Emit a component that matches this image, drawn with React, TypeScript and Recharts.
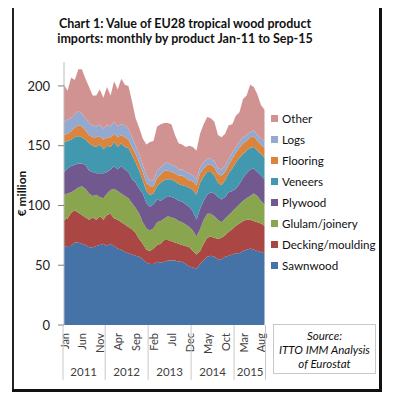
import { AreaChart, Area, XAxis, YAxis } from "recharts";

// EU28 tropical wood product imports, EUR million, monthly Jan-11 .. Sep-15
const monthNames = ["Jan", "Feb", "Mar", "Apr", "May", "Jun", "Jul", "Aug", "Sep", "Oct", "Nov", "Dec"];
const years = ["2011", "2012", "2013", "2014", "2015"];
const monthCount = 57;

const sawnwood = [65, 66, 66, 69, 69, 68, 67, 65, 65, 66, 67, 68, 66, 68, 66, 64, 63, 61, 60, 59, 58, 57, 55, 52, 51, 51, 53, 52, 53, 54, 54, 54, 53, 53, 51, 49, 48, 47, 51, 54, 57, 58, 57, 55, 55, 57, 58, 59, 60, 60, 62, 63, 64, 63, 62, 61, 60];
const decking = [23, 23, 28, 27, 25, 24, 23, 23, 25, 22, 24, 20, 26, 25, 23, 24, 23, 23, 22, 21, 19, 15, 13, 11, 11, 13, 14, 16, 18, 17, 16, 15, 15, 14, 15, 16, 14, 12, 11, 14, 16, 16, 16, 17, 18, 18, 20, 21, 23, 25, 25, 25, 24, 24, 24, 24, 23];
const glulam = [21, 21, 17, 17, 21, 24, 24, 22, 18, 21, 16, 18, 18, 20, 25, 24, 24, 24, 24, 22, 21, 21, 18, 18, 17, 17, 19, 19, 18, 20, 20, 20, 19, 19, 18, 17, 17, 15, 18, 20, 20, 19, 18, 16, 13, 14, 14, 15, 15, 16, 17, 18, 20, 23, 22, 19, 18];
const plywood = [19, 21, 22, 21, 20, 19, 20, 19, 20, 18, 20, 21, 18, 17, 19, 18, 23, 22, 22, 20, 21, 21, 24, 21, 20, 20, 19, 17, 17, 17, 17, 17, 17, 17, 17, 17, 16, 14, 17, 16, 16, 18, 19, 19, 19, 18, 19, 17, 16, 17, 19, 21, 22, 21, 20, 21, 21];
const veneers = [25, 23, 22, 23, 23, 22, 21, 23, 22, 22, 24, 20, 22, 19, 20, 19, 19, 19, 20, 20, 17, 15, 11, 10, 10, 9, 11, 15, 15, 14, 15, 14, 14, 14, 15, 16, 18, 21, 22, 20, 19, 17, 15, 12, 12, 14, 16, 19, 22, 22, 20, 19, 18, 18, 18, 18, 18];
const flooring = [6, 6, 7, 8, 9, 9, 8, 7, 7, 8, 7, 8, 7, 8, 7, 8, 7, 8, 7, 7, 7, 7, 7, 7, 7, 6, 7, 7, 8, 7, 6, 7, 7, 8, 7, 6, 7, 8, 8, 7, 6, 6, 7, 7, 8, 7, 7, 8, 8, 8, 9, 8, 9, 9, 8, 8, 8];
const logs = [11, 12, 11, 11, 12, 11, 10, 10, 10, 9, 10, 9, 10, 9, 10, 9, 9, 10, 9, 8, 7, 7, 6, 6, 5, 5, 6, 6, 6, 7, 6, 6, 5, 5, 5, 6, 5, 5, 5, 5, 5, 5, 5, 5, 5, 5, 5, 5, 5, 5, 5, 5, 4, 5, 5, 5, 5];
const other = [31, 24, 34, 29, 35, 37, 33, 30, 25, 26, 29, 26, 32, 26, 34, 31, 38, 34, 36, 30, 23, 22, 22, 26, 32, 33, 37, 36, 34, 33, 34, 26, 22, 21, 21, 23, 24, 24, 28, 32, 35, 34, 33, 28, 27, 27, 28, 24, 26, 25, 32, 33, 40, 36, 34, 28, 27];

const yTicks = [0, 50, 100, 150, 200];

const series = [
  { key: "sawnwood", name: "Sawnwood", color: "#4572A7", values: sawnwood },
  { key: "decking", name: "Decking/moulding", color: "#AA4643", values: decking },
  { key: "glulam", name: "Glulam/joinery", color: "#89A54E", values: glulam },
  { key: "plywood", name: "Plywood", color: "#71588F", values: plywood },
  { key: "veneers", name: "Veneers", color: "#4198AF", values: veneers },
  { key: "flooring", name: "Flooring", color: "#DB843D", values: flooring },
  { key: "logs", name: "Logs", color: "#93A9CF", values: logs },
  { key: "other", name: "Other", color: "#D19392", values: other },
];

const data = Array.from({ length: monthCount }, (_, i) => {
  const row: Record<string, string | number> = {
    label: monthNames[i % 12],
    year: years[Math.floor(i / 12)],
  };
  series.forEach((s) => {
    row[s.key] = s.values[i];
  });
  return row;
});

const FONT = "Lato, 'Open Sans', sans-serif";
const PLOT_LEFT = 64;
const PLOT_RIGHT = 264.5;
const STEP = (PLOT_RIGHT - PLOT_LEFT) / (monthCount - 1);

// indices where a year's label sits (half a step to the right of that month)
const yearLabelAt: Record<number, { text: string; shift: number }> = {
  5: { text: "2011", shift: 0.5 },
  17: { text: "2012", shift: 0.5 },
  29: { text: "2013", shift: 0.5 },
  41: { text: "2014", shift: 0.5 },
  52: { text: "2015", shift: 0 },
};

function MonthTick(props: any) {
  const { x, y, payload } = props;
  const i = payload.index;
  const parts = [];
  if (i % 5 === 0) {
    parts.push(
      <text
        key="m"
        x={x}
        y={y + 8}
        transform={`rotate(-90, ${x}, ${y + 8})`}
        textAnchor="end"
        dominantBaseline="central"
        fontSize={11}
        fill="#404040"
        fontFamily={FONT}
      >
        {payload.value}
      </text>
    );
  }
  if (i % 12 === 11 || i === 0 || i === monthCount - 1) {
    const lx = i === 0 ? x - 1 : i === monthCount - 1 ? x + 1 : x + STEP / 2;
    parts.push(<line key="s" x1={lx} x2={lx} y1={y} y2={y + 55} stroke="#c8c8c8" strokeWidth={1} />);
  }
  const yl = yearLabelAt[i];
  if (yl) {
    parts.push(
      <text
        key="y"
        x={x + yl.shift * STEP}
        y={y + 46}
        textAnchor="middle"
        dominantBaseline="central"
        fontSize={11.5}
        fill="#404040"
        fontFamily={FONT}
      >
        {yl.text}
      </text>
    );
  }
  return <g>{parts}</g>;
}

export default function App() {
  const legendItems = [...series].reverse();
  return (
    <div style={{ position: "absolute", left: 0, top: 0, width: 398, height: 403, background: "#fff", fontFamily: FONT }}>
      {/* frame */}
      <div style={{ position: "absolute", left: 12, top: 8, width: 1.5, height: 383, background: "#222" }} />
      <div style={{ position: "absolute", left: 379, top: 8, width: 2.5, height: 384, background: "#111" }} />
      <div style={{ position: "absolute", left: 12, top: 389, width: 369, height: 2.5, background: "#111" }} />

      {/* title */}
      <div
        style={{
          position: "absolute",
          left: 40,
          top: 16,
          width: 290,
          textAlign: "center",
          fontWeight: 700,
          fontSize: 12.5,
          lineHeight: "15px",
          color: "#111",
        }}
      >
        Chart 1: Value of EU28 tropical wood product
        <br />
        imports: monthly by product Jan-11 to Sep-15
      </div>

      <AreaChart
        width={398}
        height={403}
        data={data}
        margin={{ top: 62, right: 398 - PLOT_RIGHT, bottom: 0, left: 0 }}
        style={{ position: "absolute", left: 0, top: 0 }}
      >
        <XAxis
          dataKey="label"
          interval={0}
          height={78}
          tickSize={0}
          tickMargin={0}
          axisLine={false}
          tickLine={false}
          tick={<MonthTick />}
        />
        <YAxis
          width={PLOT_LEFT}
          domain={[0, 220]}
          ticks={yTicks}
          tickSize={6}
          tickMargin={8}
          axisLine={{ stroke: "#bcbcbc" }}
          tickLine={{ stroke: "#808080" }}
          tick={{ fontSize: 13, fill: "#222", fontFamily: FONT }}
          label={{
            value: "€ million",
            angle: -90,
            position: "insideLeft",
            dx: 17,
            dy: 0,
            style: { fontSize: 12, fontWeight: 700, fill: "#111", fontFamily: FONT, textAnchor: "middle" },
          }}
        />
        {series.map((s) => (
          <Area
            key={s.key}
            type="linear"
            dataKey={s.key}
            name={s.name}
            stackId="1"
            stroke="none"
            fill={s.color}
            fillOpacity={1}
            dot={false}
            activeDot={false}
            isAnimationActive={false}
          />
        ))}
      </AreaChart>

      {/* legend */}
      <div style={{ position: "absolute", left: 271, top: 108 }}>
        {legendItems.map((s) => (
          <div key={s.key} style={{ display: "flex", alignItems: "center", height: 21, fontSize: 11.6, color: "#111" }}>
            <span style={{ width: 7, height: 7, background: s.color, marginRight: 4, display: "inline-block" }} />
            {s.name}
          </div>
        ))}
      </div>

      {/* source box */}
      <div
        style={{
          position: "absolute",
          left: 273,
          top: 324,
          width: 103,
          height: 50,
          border: "1px solid #c8c8c8",
          boxSizing: "border-box",
          textAlign: "center",
          fontStyle: "italic",
          fontSize: 11.5,
          lineHeight: "14px",
          paddingTop: 4,
          color: "#111",
        }}
      >
        Source:
        <br />
        ITTO IMM Analysis
        <br />
        of Eurostat
      </div>
    </div>
  );
}
